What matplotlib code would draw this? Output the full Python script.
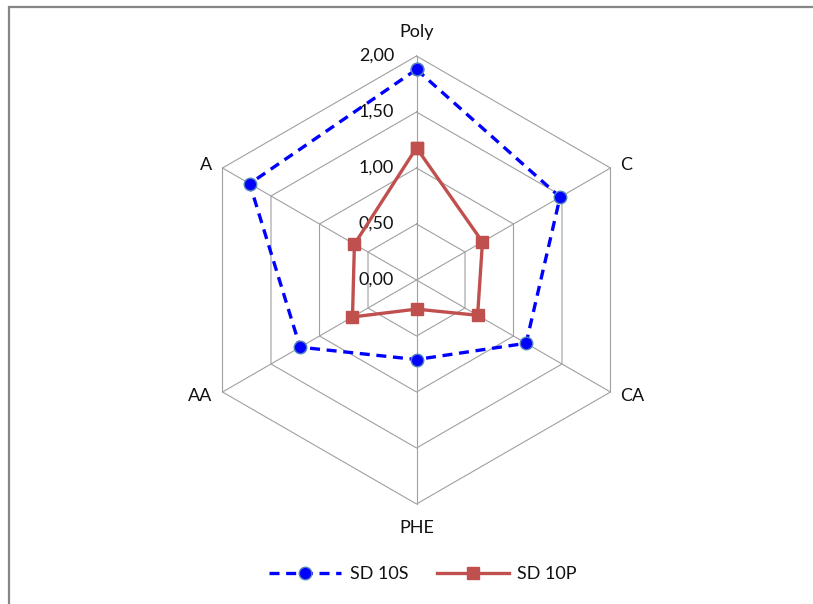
import numpy as np
import matplotlib

matplotlib.use("Agg")
import matplotlib.pyplot as plt
from matplotlib.patches import Rectangle

plt.rcParams["font.family"] = ["Lato", "DejaVu Sans"]

# axes clockwise from the top
categories = ["Poly", "C", "CA", "PHE", "AA", "A"]
sd_10s = [1.88, 1.48, 1.13, 0.71, 1.20, 1.72]
sd_10p = [1.18, 0.68, 0.63, 0.26, 0.66, 0.64]
rings = [0.0, 0.5, 1.0, 1.5, 2.0]
ring_labels = ["0,00", "0,50", "1,00", "1,50", "2,00"]

W, H, DPI = 813, 604, 100
CX, CY = 416.5, 280.0  # centre of the web, pixels from top-left
PX = 112.0  # pixels per unit of value

angles = np.arange(len(categories)) * 2 * np.pi / len(categories)


def to_xy(values):
    r = np.asarray(values, dtype=float)
    return r * np.sin(angles), r * np.cos(angles)


def closed(a):
    return np.append(a, a[0])


fig = plt.figure(figsize=(W / DPI, H / DPI), dpi=DPI)
ax = fig.add_axes([0, 0, 1, 1])
ax.set_xlim(-CX / PX, (W - CX) / PX)
ax.set_ylim(-(H - CY) / PX, CY / PX)
ax.axis("off")

grid = "#a0a0a0"
rmax = rings[-1]
for r in rings[1:]:
    gx, gy = to_xy([r] * len(categories))
    ax.plot(closed(gx), closed(gy), color=grid, lw=0.8, zorder=1)
for a in angles:
    ax.plot([0, rmax * np.sin(a)], [0, rmax * np.cos(a)], color=grid, lw=0.8, zorder=1)

fs = 13
txt = "#111111"
for r, lab in zip(rings, ring_labels):
    ax.text(-0.2, r, lab, ha="right", va="center", fontsize=fs, color=txt, zorder=2)

# category names just outside the outer ring
off = 10 / PX
for a, name in zip(angles, categories):
    vx, vy = rmax * np.sin(a), rmax * np.cos(a)
    s = np.sin(a)
    if abs(s) < 1e-6:
        ty = vy + (24 / PX if np.cos(a) > 0 else -24 / PX)
        ax.text(vx, ty, name, ha="center", va="center", fontsize=fs, color=txt)
    else:
        ha = "left" if s > 0 else "right"
        dy = 3 / PX if np.cos(a) > 0 else -4 / PX
        ax.text(vx + np.sign(s) * off, vy + dy, name, ha=ha, va="center",
                fontsize=fs, color=txt)

bx, by = to_xy(sd_10s)
ax.plot(closed(bx), closed(by), color="#0000ff", lw=2.4, ls=(0, (3, 2)),
        marker="o", markersize=9, markerfacecolor="#0000ff",
        markeredgecolor="#4f81bd", markeredgewidth=1.0, zorder=4, label="SD 10S")

rx, ry = to_xy(sd_10p)
ax.plot(closed(rx), closed(ry), color="#c0504d", lw=2.4,
        marker="s", markersize=9, markerfacecolor="#c0504d",
        markeredgecolor="#c0504d", zorder=3, label="SD 10P")

fig.legend(loc="center", bbox_to_anchor=(423 / W, 1 - 574 / H), ncol=2, frameon=False,
           fontsize=fs, handlelength=4.0, columnspacing=1.6, handletextpad=0.45,
           labelcolor=txt)

fig.patches.append(Rectangle((8.5 / W, -0.05), 1.1, 1.05 - 7 / H,
                             transform=fig.transFigure, fill=False,
                             edgecolor="#868686", lw=1.6))

fig.savefig("out.png", dpi=DPI)
